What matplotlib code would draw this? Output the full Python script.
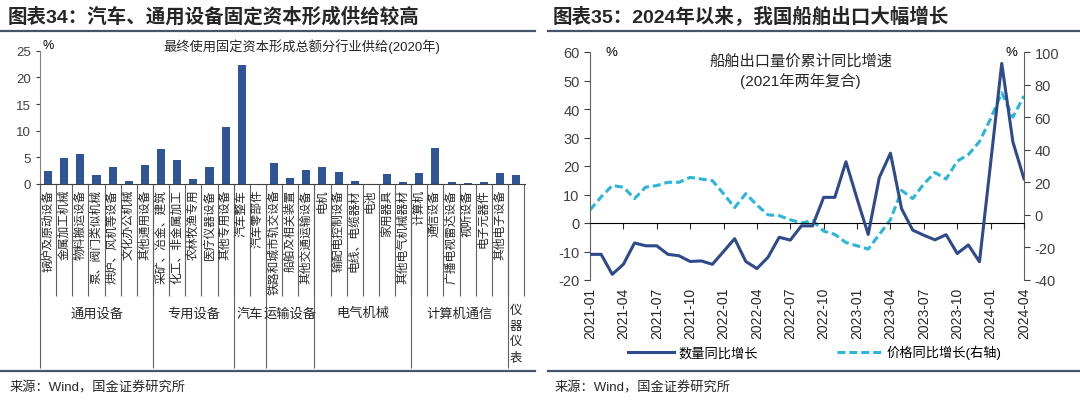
import numpy as np
import pandas as pd
import matplotlib
matplotlib.use('Agg')
import matplotlib.pyplot as plt
from matplotlib.lines import Line2D

plt.rcParams['font.family'] = ['Liberation Sans', 'Noto Sans CJK SC', 'DejaVu Sans']
plt.rcParams['axes.unicode_minus'] = False

# left chart: fixed capital formation supply by industry, 2020 (%)
categories = ['锅炉及原动设备', '金属加工机械', '物料搬运设备', '泵、阀门类似机械', '烘炉、风机等设备',
              '文化办公机械', '其他通用设备', '采矿、冶金、建筑', '化工、非金属加工', '农林牧渔专用',
              '医疗仪器设备', '其他专用设备', '汽车整车', '汽车零部件', '铁路和城市轨交设备',
              '船舶及相关装置', '其他交通运输设备', '电机', '输配电控制设备', '电线、电缆器材',
              '电池', '家用器具', '其他电气机械器材', '计算机', '通信设备',
              '广播电视雷达设备', '视听设备', '电子元器件', '其他电子设备', '']
supply = [2.4, 4.8, 5.6, 1.7, 3.2, 0.5, 3.5, 6.6, 4.5, 1.0,
          3.2, 10.7, 22.4, 0.0, 3.9, 1.2, 2.7, 3.2, 2.3, 0.5,
          0.0, 1.9, 0.4, 2.0, 6.8, 0.4, 0.2, 0.4, 2.1, 1.7]
groups = ['通用设备', '专用设备', '汽车', '运输设备', '电气机械', '计算机通信', '仪器仪表']
group_sizes = [7, 5, 2, 3, 6, 6, 1]

# right chart: ship exports, cumulative yoy (%)
months = pd.date_range('2021-01-01', periods=40, freq='MS')
volume_yoy = [-11, -11, -18, -14.5, -7, -8, -8, -11, -11.5, -13.5,
              -13.3, -14.5, -10, -5.5, -13.5, -16, -12, -5, -6, -1,
              -1, 9, 9, 21.5, 8.5, -4, 16, 24.5, 5, -2.5,
              -4.3, -5.9, -4.1, -10.7, -7.7, -13.6, 21, 56, 28.5, 15.5]
price_yoy = [3, 11, 18, 17, 10, 17, 18, 20, 20, 23,
             22, 21, 13, 4.5, 13, 6, 0, -0.5, -3, -5,
             -3.5, -10, -12, -17, -19, -21, -12, -3, 15, 10,
             19, 26, 22, 33, 37, 45, 59, 75, 60, 73]

bar_color = '#2F5597'
navy = '#2E4A8A'
cyan = '#2BB5D8'
rule_color = '#44546A'
text_color = '#262626'

fig = plt.figure(figsize=(10.8, 4.02), dpi=100)

# panel titles, rules, sources
fig.text(8/1080, 1-17/402, '图表34：汽车、通用设备固定资本形成供给较高', fontsize=14, fontweight='bold',
         va='center', ha='left', color=text_color)
fig.text(553/1080, 1-17/402, '图表35：2024年以来，我国船舶出口大幅增长', fontsize=14, fontweight='bold',
         va='center', ha='left', color=text_color)
for x0, x1 in [(0, 535/1080), (548/1080, 1)]:
    fig.add_artist(Line2D([x0, x1], [1-32/402, 1-32/402], color=rule_color, lw=1.6))
    fig.add_artist(Line2D([x0, x1], [1-372/402, 1-372/402], color=rule_color, lw=1.6))
fig.text(10/1080, 1-388/402, '来源：Wind，国金证券研究所', fontsize=9.5, va='center', ha='left', color=text_color)
fig.text(555/1080, 1-388/402, '来源：Wind，国金证券研究所', fontsize=9.5, va='center', ha='left', color=text_color)

# ---- left chart
ax1 = fig.add_axes([40/1080, 1-185/402, 485/1080, 133.3/402])
x = np.arange(len(supply))
ax1.bar(x, supply, width=0.5, color=bar_color)
ax1.set_xlim(-0.5, 29.55)
ax1.set_xticks([])
ax1.tick_params(axis='y', labelsize=9.5, length=3, colors='#404040')
for s in ['top', 'right']:
    ax1.spines[s].set_visible(False)
ax1.spines['left'].set_color('#808080')
ax1.spines['bottom'].set_color('#404040')
ax1.text(0.005, 1.04, '%', transform=ax1.transAxes, fontsize=9, va='center', ha='left')
ax1.text(0.54, 1.04, '最终使用固定资本形成总额分行业供给(2020年)', transform=ax1.transAxes,
         fontsize=9.5, va='center', ha='center', color=text_color)

xt = ax1.get_xaxis_transform()
for xi, lab in zip(x, categories):
    ax1.text(xi, -0.035, lab, transform=xt, rotation=90, fontsize=8.5, va='top', ha='center', color=text_color)
ax1.vlines(np.arange(-0.5, 30, 1.0), -0.84, 0, transform=xt, clip_on=False, color='#606060', lw=0.8)
bounds = np.concatenate([[0], np.cumsum(group_sizes)]) - 0.5
ax1.vlines(bounds[:-1], -1.38, 0, transform=xt, clip_on=False, color='#606060', lw=0.8)
for g, a, b in zip(groups, bounds[:-1], bounds[1:]):
    if g == '仪器仪表':
        ax1.text((a + b) / 2, -0.9, '\n'.join(g), transform=xt, fontsize=9, va='top', ha='center',
                 linespacing=1.4, color=text_color)
    else:
        ax1.text((a + b) / 2, -0.97, g, transform=xt, fontsize=9.5, va='center', ha='center', color=text_color)
ax1.set_ylim(0, 25)
ax1.set_yticks(range(0, 26, 5))

# ---- right chart
ax2 = fig.add_axes([590/1080, 1-281/402, 434/1080, 228/402])
ax3 = ax2.twinx()
idx = np.arange(len(months))
ax2.plot(idx, volume_yoy, color=navy, lw=2.2, zorder=3)
ax3.plot(idx, price_yoy, color=cyan, lw=2.2, linestyle=(0, (2.6, 1.3)), zorder=2)
ax2.set_zorder(ax3.get_zorder() + 1)
ax2.patch.set_visible(False)

ax2.set_xlim(0, 39)
ax2.set_ylim(-20, 60)
ax2.set_yticks(range(-20, 61, 10))
ax3.set_ylim(-40, 100)
ax3.set_yticks(range(-40, 101, 20))
tick_idx = idx[::3]
ax2.set_xticks(tick_idx)
ax2.set_xticklabels([months[i].strftime('%Y-%m') for i in tick_idx])
ax2.spines['bottom'].set_position(('data', 0))
ax2.spines['bottom'].set_color('black')
ax2.tick_params(axis='x', length=4, direction='out', pad=42, labelsize=10, colors=text_color,
                labelrotation=90)
ax2.tick_params(axis='y', labelsize=10.5, length=4, colors='#404040')
ax3.tick_params(axis='y', labelsize=10.5, length=4, colors='#404040')
for s in ['top', 'right']:
    ax2.spines[s].set_visible(False)
for s in ['top', 'left', 'bottom']:
    ax3.spines[s].set_visible(False)
ax2.spines['left'].set_color('#606060')
ax3.spines['right'].set_color('#606060')

ax2.text(0.035, 1.0, '%', transform=ax2.transAxes, fontsize=9.5, va='center', ha='left')
ax2.text(0.985, 1.0, '%', transform=ax2.transAxes, fontsize=9.5, va='center', ha='right')
ax2.text(0.485, 0.995, '船舶出口量价累计同比增速\n(2021年两年复合)', transform=ax2.transAxes,
         fontsize=11, va='top', ha='center', linespacing=1.3, color=text_color)

handles = [Line2D([], [], color=navy, lw=2.2),
           Line2D([], [], color=cyan, lw=2.2, linestyle=(0, (2.6, 1.3)))]
fig.legend(handles, ['数量同比增长', '价格同比增长(右轴)'], loc='center',
           bbox_to_anchor=(815/1080, 1-353/402), ncol=2, frameon=False, fontsize=9.5,
           handlelength=3.5, columnspacing=6, handletextpad=0.3)

fig.savefig('out.png', dpi=100)
